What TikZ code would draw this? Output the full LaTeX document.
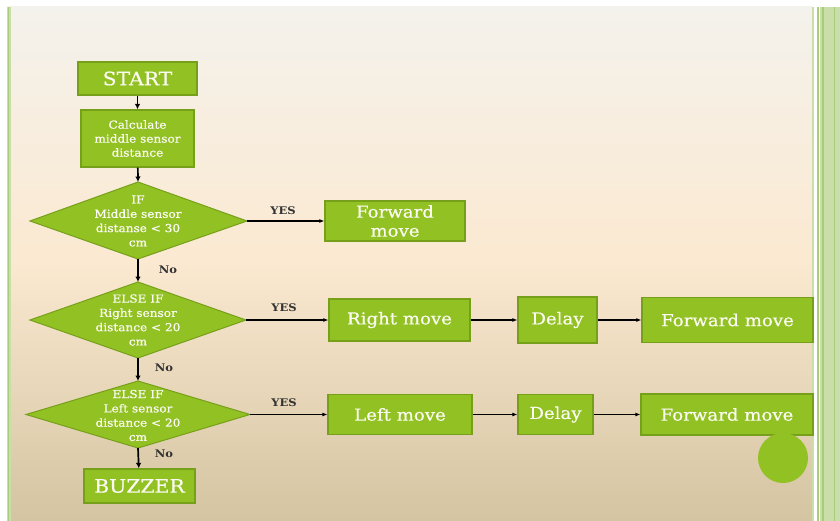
\documentclass[tikz,border=0pt]{standalone}
\usepackage{fontspec}
\setmainfont{DejaVu Serif}[FakeStretch=1.1]
\newfontfamily\boxfont{DejaVu Serif}[FakeStretch=1.1, FakeBold=0.6]
\usetikzlibrary{arrows.meta}
\definecolor{boxfill}{HTML}{92C123}
\definecolor{boxline}{HTML}{76A01A}
\definecolor{bgtop}{HTML}{F4F2EC}
\definecolor{bgmid}{HTML}{FBE9D1}
\definecolor{bgbot}{HTML}{D4C4A1}
\definecolor{stripe}{HTML}{C9DEA9}
\definecolor{stripedark}{HTML}{A9CC7C}
\definecolor{lbl}{HTML}{333333}
\definecolor{boxtext}{HTML}{FBFBF2}
\tikzset{
  pbox/.style={draw=boxline, line width=1.2pt, fill=boxfill, text=boxtext, inner sep=0pt, align=center},
  big/.style={font=\boxfont\fontsize{16.5}{18}\selectfont},
  dshape/.style={draw=boxline, line width=1pt, fill=boxfill},
  dtext/.style={text=boxtext, inner sep=0pt, align=center, font=\boxfont\fontsize{11}{14.3}\selectfont},
  flow/.style={draw=black, line width=1.7pt, -{Latex[length=5.5pt,width=5.5pt]}},
  hflow/.style={draw=black, line width=1.3pt, -{Latex[length=5pt,width=4pt]}},
  tag/.style={text=lbl, font=\fontsize{10.5}{12}\selectfont\bfseries, inner sep=0pt}
}
\begin{document}
\begin{tikzpicture}[x=1pt,y=-1pt]
\useasboundingbox (0,0) rectangle (840,521);
% background
\fill[white] (0,0) rectangle (840,521);
\shade[top color=bgtop, bottom color=bgmid] (7,7) rectangle (812,260);
\shade[top color=bgmid, bottom color=bgbot] (7,259.5) rectangle (812,521);
% left stripe
\fill[stripe] (7,7) rectangle (11,521);
\fill[stripedark] (8,7) rectangle (9.2,521);
% right stripes
\fill[white] (812,7) rectangle (840,521);
\fill[stripe] (812,7) rectangle (814,521);
\fill[stripedark] (816.5,7) rectangle (818.5,521);
\fill[stripe] (820,7) rectangle (840,521);
\fill[stripedark] (822,7) rectangle (824,521);
\fill[stripedark] (834,7) rectangle (835,521);

% boxes
\node[pbox, minimum width=119, minimum height=33, font=\boxfont\fontsize{18.5}{20}\selectfont] (start) at (137.5,78.5) {START};
\node[pbox, minimum width=113, minimum height=57, font=\boxfont\fontsize{11}{14}\selectfont] (calc) at (137.5,138.5) {Calculate\\middle sensor\\distance};

% diamonds
\coordinate (d1n) at (138,182); \coordinate (d1e) at (247,221);
\coordinate (d1s) at (138,259); \coordinate (d1w) at (30,221);
\filldraw[dshape] (d1n) -- (d1e) -- (d1s) -- (d1w) -- cycle;
\node[dtext] (d1) at (138,221) {IF\\Middle sensor\\distanse < 30\\cm};

\coordinate (d2n) at (138,282); \coordinate (d2e) at (246,320);
\coordinate (d2s) at (138,358); \coordinate (d2w) at (30,320);
\filldraw[dshape] (d2n) -- (d2e) -- (d2s) -- (d2w) -- cycle;
\node[dtext] (d2) at (138,320) {ELSE IF\\Right sensor\\distance < 20\\cm};

\coordinate (d3n) at (138,381); \coordinate (d3e) at (250,414.5);
\coordinate (d3s) at (138,448); \coordinate (d3w) at (26,414.5);
\filldraw[dshape] (d3n) -- (d3e) -- (d3s) -- (d3w) -- cycle;
\node[dtext] (d3) at (138,415.5) {ELSE IF\\Left sensor\\distance < 20\\cm};

\node[pbox, minimum width=111, minimum height=34, font=\boxfont\fontsize{18.5}{20}\selectfont] (buzz) at (139.5,486) {BUZZER};

\node[pbox, minimum width=140, minimum height=40, font=\boxfont\fontsize{16.5}{19}\selectfont] (fw1) at (395,221) {Forward\\move};
\node[pbox, big, minimum width=141, minimum height=42] (rm) at (399.5,320) {Right move};
\node[pbox, big, minimum width=79, minimum height=46] (dl1) at (557.5,320) {Delay};
\node[pbox, big, minimum width=171, minimum height=45] (fw2) at (727.5,320) {Forward move};
\node[pbox, big, minimum width=144, minimum height=40] (lm) at (400,414.5) {Left move};
\node[pbox, big, minimum width=75, minimum height=40] (dl2) at (555.5,414.5) {Delay};
\node[pbox, big, minimum width=172, minimum height=41] (fw3) at (727,414.5) {Forward move};

\node[circle, fill=boxfill, minimum size=50, inner sep=0pt] (dot) at (783,458) {};

% connectors
\draw[flow] (start) -- (calc);
\draw[flow] (calc) -- (d1n);
\draw[flow] (d1s) -- (d2n);
\draw[flow] (d2s) -- (d3n);
\draw[flow] (d3s) -- (buzz);
\draw[hflow] (d1e) -- (fw1);
\draw[hflow] (d2e) -- (rm);
\draw[hflow] (rm) -- (dl1);
\draw[hflow] (dl1) -- (fw2);
\draw[hflow] (d3e) -- (lm);
\draw[hflow] (lm) -- (dl2);
\draw[hflow] (dl2) -- (fw3);

% labels
\node[tag] (y1) at (283,211) {YES};
\node[tag] (y2) at (284,308) {YES};
\node[tag] (y3) at (284,403) {YES};
\node[tag] (n1) at (168,270) {No};
\node[tag] (n2) at (164,368) {No};
\node[tag] (n3) at (164,454) {No};
\end{tikzpicture}
\end{document}
